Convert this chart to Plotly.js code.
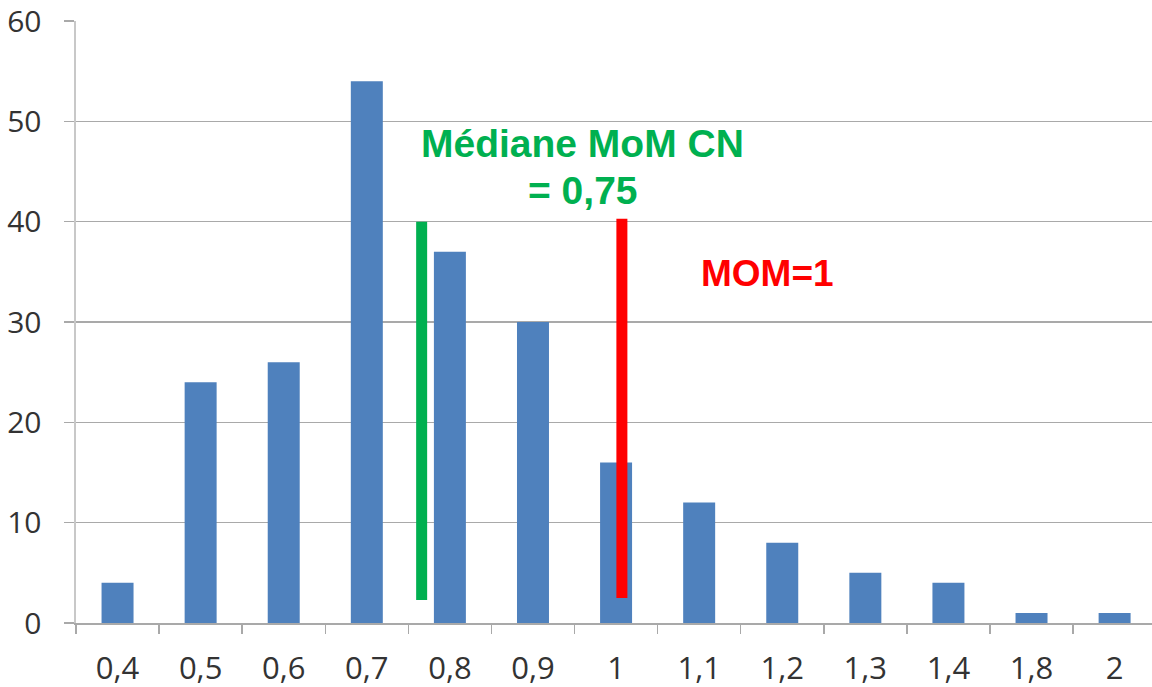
<!DOCTYPE html>
<html>
<head>
<meta charset="utf-8">
<script src="https://cdn.plot.ly/plotly-3.0.1.min.js"></script>
<style>html,body{margin:0;padding:0;background:#fff;}#chart{width:1152px;height:687px;}</style>
</head>
<body>
<div id="chart"></div>
<script>
const categories = ["0,4","0,5","0,6","0,7","0,8","0,9","1","1,1","1,2","1,3","1,4","1,8","2"];
const counts = [4, 24, 26, 54, 37, 30, 16, 12, 8, 5, 4, 1, 1];
const yTicks = [0, 10, 20, 30, 40, 50, 60];

// reference lines (category-axis position, bottom, top)
const medianLine = {x: 3.66, y0: 2.3, y1: 40};
const momLine = {x: 6.07, y0: 2.5, y1: 40.3};

const trace = {
  type: 'bar',
  x: categories,
  y: counts,
  marker: {color: '#4F81BD'},
  hoverinfo: 'x+y'
};

const gridCol = '#a9a9a9';
const layout = {
  width: 1152, height: 687,
  margin: {l: 76, r: 0, t: 21, b: 64},
  paper_bgcolor: '#fff', plot_bgcolor: '#fff',
  bargap: 0.615,
  showlegend: false,
  font: {family: '"Open Sans", sans-serif', color: '#333', size: 28},
  xaxis: {
    type: 'category',
    range: [-0.5, 12.45],
    tickson: 'boundaries',
    ticks: 'outside', ticklen: 9, tickcolor: gridCol, tickwidth: 1.5,
    showline: true, linecolor: gridCol, linewidth: 1.5,
    showgrid: false, zeroline: false,
    ticklabelstandoff: 17,
    ticklabeloverflow: 'allow',
    tickfont: {size: 31, color: '#333'},
    fixedrange: true
  },
  yaxis: {
    range: [0, 60],
    tickvals: yTicks,
    ticktext: yTicks.map(String),
    ticks: 'outside', ticklen: 10, tickcolor: gridCol, tickwidth: 1.5,
    showgrid: true, gridcolor: gridCol, gridwidth: 1.5,
    showline: true, linecolor: '#c8c8c8', linewidth: 2.5,
    zeroline: false,
    ticklabelstandoff: 16,
    ticklabeloverflow: 'allow',
    tickfont: {size: 30, color: '#333'},
    fixedrange: true
  },
  shapes: [
    {type: 'line', xref: 'x', yref: 'y', x0: medianLine.x, x1: medianLine.x, y0: medianLine.y0, y1: medianLine.y1,
     line: {color: '#00B050', width: 11}, layer: 'above'},
    {type: 'line', xref: 'x', yref: 'y', x0: momLine.x, x1: momLine.x, y0: momLine.y0, y1: momLine.y1,
     line: {color: '#FF0000', width: 11}, layer: 'above'}
  ],
  annotations: [
    {xref: 'x', yref: 'y', x: 5.6, y: 47.8, text: 'Médiane MoM CN', showarrow: false,
     xanchor: 'center', yanchor: 'middle',
     font: {family: '"Liberation Sans", Arial, sans-serif', size: 39, color: '#00B050', weight: 'bold'}},
    {xref: 'x', yref: 'y', x: 5.6, y: 43.1, text: '= 0,75', showarrow: false,
     xanchor: 'center', yanchor: 'middle',
     font: {family: '"Liberation Sans", Arial, sans-serif', size: 39, color: '#00B050', weight: 'bold'}},
    {xref: 'x', yref: 'y', x: 7.82, y: 34.8, text: 'MOM=1', showarrow: false,
     xanchor: 'center', yanchor: 'middle',
     font: {family: '"Liberation Sans", Arial, sans-serif', size: 37, color: '#FF0000', weight: 'bold'}}
  ]
};

Plotly.newPlot('chart', [trace], layout, {displayModeBar: false, staticPlot: true});
</script>
</body>
</html>
